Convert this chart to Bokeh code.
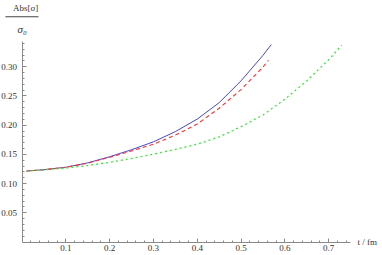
from bokeh.plotting import figure
from bokeh.models import Range1d, FixedTicker, Label, BoxAnnotation
from bokeh.embed import file_html
from bokeh.resources import INLINE

# ---- data ----
t_blue = [0.01, 0.05, 0.10, 0.15, 0.20, 0.25, 0.30, 0.35, 0.40, 0.45, 0.50, 0.55, 0.569]
blue = [0.1215, 0.1238, 0.1280, 0.1355, 0.1460, 0.1580, 0.1715, 0.1890, 0.2105, 0.2385, 0.2760, 0.3195, 0.3380]

t_red = [0.01, 0.05, 0.10, 0.15, 0.20, 0.25, 0.30, 0.35, 0.40, 0.45, 0.50, 0.55, 0.5625]
red = [0.1215, 0.1238, 0.1278, 0.1350, 0.1450, 0.1560, 0.1675, 0.1830, 0.2020, 0.2290, 0.2610, 0.2995, 0.3110]

t_green = [0.01, 0.05, 0.10, 0.15, 0.20, 0.25, 0.30, 0.35, 0.40, 0.45, 0.50, 0.55, 0.60, 0.65, 0.70, 0.73]
green = [0.1215, 0.1235, 0.1265, 0.1310, 0.1365, 0.1430, 0.1505, 0.1585, 0.1675, 0.1800, 0.1975, 0.2175, 0.2445, 0.2760, 0.3120, 0.3370]

x_ticks = [0.1, 0.2, 0.3, 0.4, 0.5, 0.6, 0.7]
x_tick_labels = ["0.1", "0.2", "0.3", "0.4", "0.5", "0.6", "0.7"]
x_minor = [round(0.02 * i, 2) for i in range(1, 38)]
y_ticks = [0.05, 0.10, 0.15, 0.20, 0.25, 0.30]
y_tick_labels = ["0.05", "0.10", "0.15", "0.20", "0.25", "0.30"]
y_minor = [round(0.01 * i, 2) for i in range(1, 35)]

x_label = "t / fm"
y_label_top = "Abs[σ]"
y_label_bottom = "σ₀"

# ---- figure ----
p = figure(width=382, height=255,
           x_range=Range1d(-0.0493, 0.823), y_range=Range1d(-0.0231, 0.4135),
           output_backend="svg", toolbar_location=None,
           min_border=0, min_border_left=0, min_border_right=0,
           min_border_top=0, min_border_bottom=0)
p.outline_line_color = None
p.grid.visible = False
p.background_fill_color = "white"

axis_col = "#8a8a8a"
for ax, ticks, minor, labels, bounds in (
        (p.xaxis[0], x_ticks, x_minor, x_tick_labels, (0, 0.75)),
        (p.yaxis[0], y_ticks, y_minor, y_tick_labels, (0, 0.343))):
    ax.fixed_location = 0
    ax.ticker = FixedTicker(ticks=ticks, minor_ticks=minor)
    ax.major_label_overrides = {t: l for t, l in zip(ticks, labels)}
    ax.bounds = bounds
    ax.axis_line_color = axis_col
    ax.major_tick_line_color = axis_col
    ax.minor_tick_line_color = axis_col
    ax.major_tick_in = 4
    ax.major_tick_out = 0
    ax.minor_tick_in = 2
    ax.minor_tick_out = 0
    ax.major_label_text_font = "Liberation Serif"
    ax.major_label_text_font_size = "9px"
    ax.major_label_text_color = "#333333"

p.xaxis[0].major_label_standoff = 3
p.yaxis[0].major_label_standoff = 5

p.line(t_blue, blue, line_color="#4848cc", line_width=1)
p.line(t_red, red, line_color="#ff3030", line_width=1.1, line_dash="4 3")
p.line(t_green, green, line_color="#3ae83a", line_width=1.3, line_dash="2 3")

# axis labels
p.add_layout(Label(x=0.766, y=0, text=x_label, text_font="Liberation Serif",
                   text_font_size="9px", text_baseline="middle", text_align="left",
                   text_color="#333333"))
p.add_layout(Label(x=0.008, y=0.4084, text=y_label_top, text_font="Liberation Serif",
                   text_font_size="9px", text_baseline="top", text_align="center",
                   text_color="#333333"))
p.add_layout(BoxAnnotation(left=-0.038, right=0.0375, bottom=0.3849, top=0.3866,
                           fill_color="#444444", fill_alpha=1, line_color=None))
p.add_layout(Label(x=0.0, y=0.3745, text=y_label_bottom, text_font="Liberation Serif",
                   text_font_style="italic", text_font_size="11px", text_baseline="top",
                   text_align="center", text_color="#333333"))

open("out.html", "w").write(file_html(p, INLINE))
